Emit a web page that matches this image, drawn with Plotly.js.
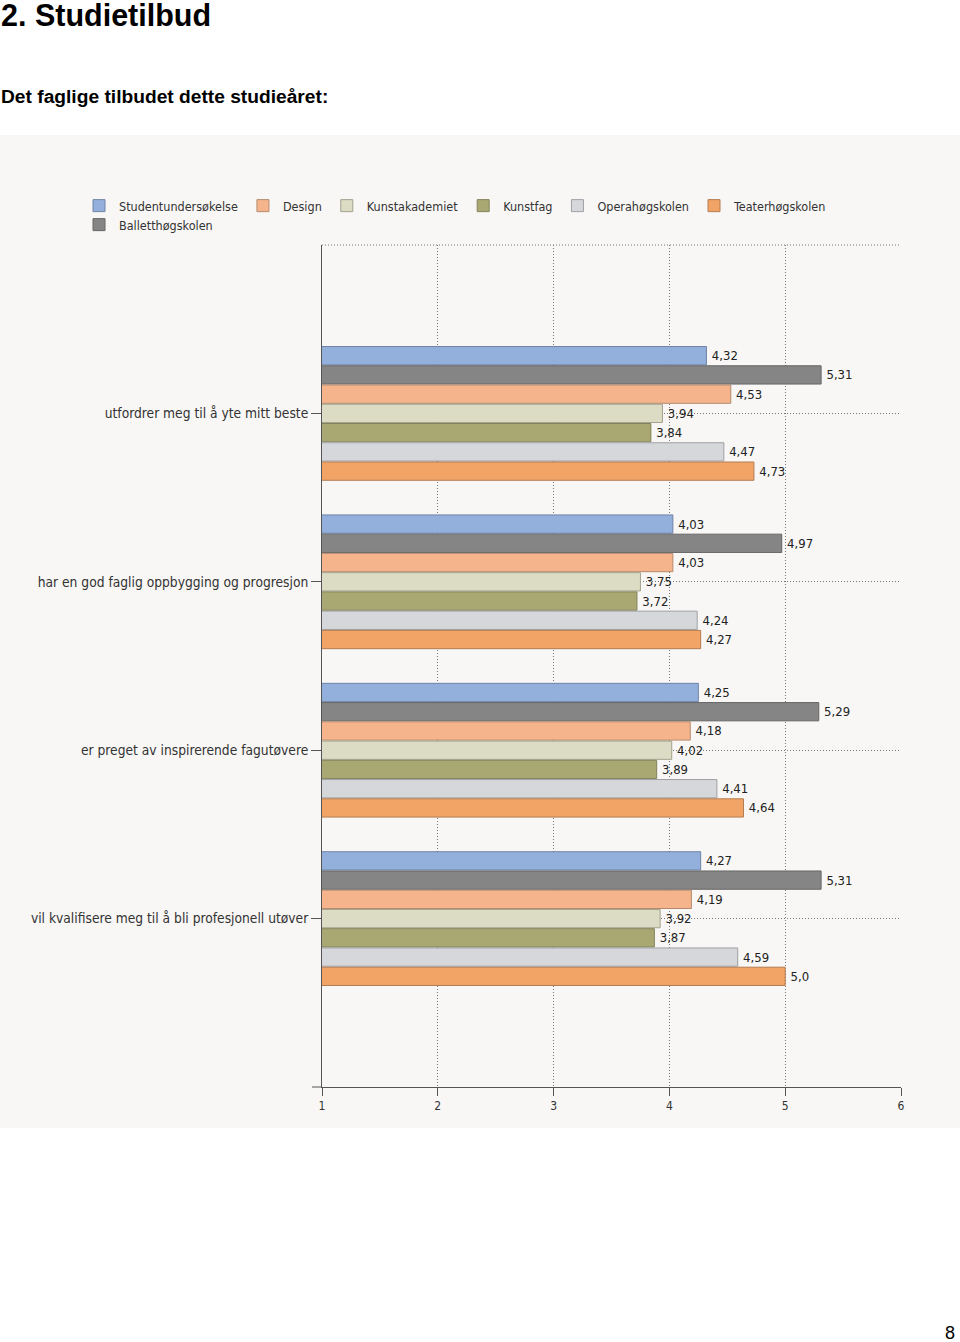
<!DOCTYPE html>
<html>
<head>
<meta charset="utf-8">
<script src="https://cdn.plot.ly/plotly-3.0.1.min.js"></script>
<style>
  html, body { margin: 0; padding: 0; background: #ffffff; width: 960px; height: 1342px; overflow: hidden; position: relative; font-family: "Liberation Sans", Arial, sans-serif; }
  #h1 { position: absolute; left: 1px; top: 0px; font-size: 30.5px; line-height: 31px; font-weight: bold; color: #000; }
  #h2 { position: absolute; left: 1px; top: 87px; font-size: 19.2px; line-height: 19px; font-weight: bold; color: #000; }
  #pg { position: absolute; right: 5px; top: 1324px; font-size: 18px; line-height: 18px; color: #000; }
  #chart { position: absolute; left: 0; top: 135px; width: 960px; height: 993px; }
</style>
</head>
<body>
<div id="h1">2. Studietilbud</div>
<div id="h2">Det faglige tilbudet dette studieåret:</div>
<div id="chart"></div>
<div id="pg">8</div>
<script>
// ---- data ----
const categories = [
  'utfordrer meg til å yte mitt beste',
  'har en god faglig oppbygging og progresjon',
  'er preget av inspirerende fagutøvere',
  'vil kvalifisere meg til å bli profesjonell utøver'
];
const seriesNames = ['Studentundersøkelse', 'Balletthøgskolen', 'Design', 'Kunstakademiet', 'Kunstfag', 'Operahøgskolen', 'Teaterhøgskolen'];
const studentundersokelse = [4.32, 4.03, 4.25, 4.27];
const balletthogskolen    = [5.31, 4.97, 5.29, 5.31];
const design              = [4.53, 4.03, 4.18, 4.19];
const kunstakademiet      = [3.94, 3.75, 4.02, 3.92];
const kunstfag            = [3.84, 3.72, 3.89, 3.87];
const operahogskolen      = [4.47, 4.24, 4.41, 4.59];
const teaterhogskolen     = [4.73, 4.27, 4.64, 5.0];
const xTicks = [1, 2, 3, 4, 5, 6];

// ---- styling ----
const seriesValues = [studentundersokelse, balletthogskolen, design, kunstakademiet, kunstfag, operahogskolen, teaterhogskolen];
const fills = ['#93afdc', '#858585', '#f6b48c', '#dcdbc3', '#aaa872', '#d6d7da', '#f1a466'];
const edges = ['#6f84a6', '#666666', '#b58a6c', '#a3a28f', '#83825a', '#9ea0a4', '#b47c52'];
const legendRank = [1, 7, 2, 3, 4, 5, 6];
const fontFam = '"DejaVu Sans Condensed", "DejaVu Sans", Tahoma, sans-serif';

function fmt(v) {
  return Number.isInteger(v) ? v + ',0' : String(v).replace('.', ',');
}

const traces = seriesNames.map((name, i) => ({
  type: 'bar',
  orientation: 'h',
  name: name,
  y: categories,
  x: seriesValues[i],
  base: 0,
  text: seriesValues[i].map(v => '\u2009' + fmt(v)),
  textposition: 'outside',
  constraintext: 'none',
  cliponaxis: false,
  textfont: { family: fontFam, size: 13, color: '#222' },
  marker: { color: fills[i], line: { color: edges[i], width: 1 } },
  legend: i === 1 ? 'legend2' : 'legend',
  legendrank: legendRank[i],
  hoverinfo: 'x+name'
}));

const W = 960, H = 993;
const mL = 322, mR = 59, mT = 110, mB = 41;
const plotW = W - mL - mR;
const plotH = H - mT - mB;
const dotted = '1px,2px';

const layout = {
  width: W, height: H,
  margin: { l: mL, r: mR, t: mT, b: mB, pad: 0 },
  paper_bgcolor: '#f8f7f5',
  plot_bgcolor: 'rgba(0,0,0,0)',
  font: { family: fontFam, size: 12, color: '#333' },
  barmode: 'group',
  bargap: 0.2,
  bargroupgap: 0.05,
  showlegend: true,
  legend: {
    orientation: 'h', x: (79 - mL) / plotW, xanchor: 'left',
    y: 1 + (mT - 56) / plotH, yanchor: 'top',
    font: { family: fontFam, size: 12.5, color: '#333' },
    bgcolor: 'rgba(0,0,0,0)', traceorder: 'normal', itemwidth: 30
  },
  legend2: {
    orientation: 'h', x: (79 - mL) / plotW, xanchor: 'left',
    y: 1 + (mT - 75) / plotH, yanchor: 'top',
    font: { family: fontFam, size: 12.5, color: '#333' },
    bgcolor: 'rgba(0,0,0,0)', itemwidth: 30
  },
  xaxis: {
    range: [1, 6],
    tickvals: xTicks,
    ticktext: xTicks.map(String),
    ticks: 'outside', ticklen: 8, tickcolor: '#555', tickwidth: 1,
    showline: true, linecolor: '#555', linewidth: 1,
    showgrid: true, gridcolor: '#777', griddash: dotted, gridwidth: 1,
    zeroline: false,
    tickfont: { family: fontFam, size: 12, color: '#333' },
    fixedrange: true
  },
  yaxis: {
    type: 'category',
    categoryorder: 'array', categoryarray: categories,
    range: [categories.length, -1],
    ticks: 'outside', ticklen: 10, tickcolor: '#555', tickwidth: 1,
    showline: true, linecolor: '#555', linewidth: 1,
    showgrid: true, gridcolor: '#777', griddash: dotted, gridwidth: 1,
    zeroline: false,
    tickfont: { family: fontFam, size: 13.7, color: '#333' },
    fixedrange: true
  },
  shapes: [
    { type: 'line', xref: 'paper', yref: 'paper', x0: 0, x1: 1, y0: 1, y1: 1,
      line: { color: '#777', width: 1, dash: dotted } },
    { type: 'line', xref: 'paper', yref: 'paper', x0: -10 / plotW, x1: 0, y0: 0, y1: 0,
      line: { color: '#555', width: 1 } }
  ]
};

Plotly.newPlot('chart', traces, layout, { displayModeBar: false, staticPlot: true });
</script>
</body>
</html>
